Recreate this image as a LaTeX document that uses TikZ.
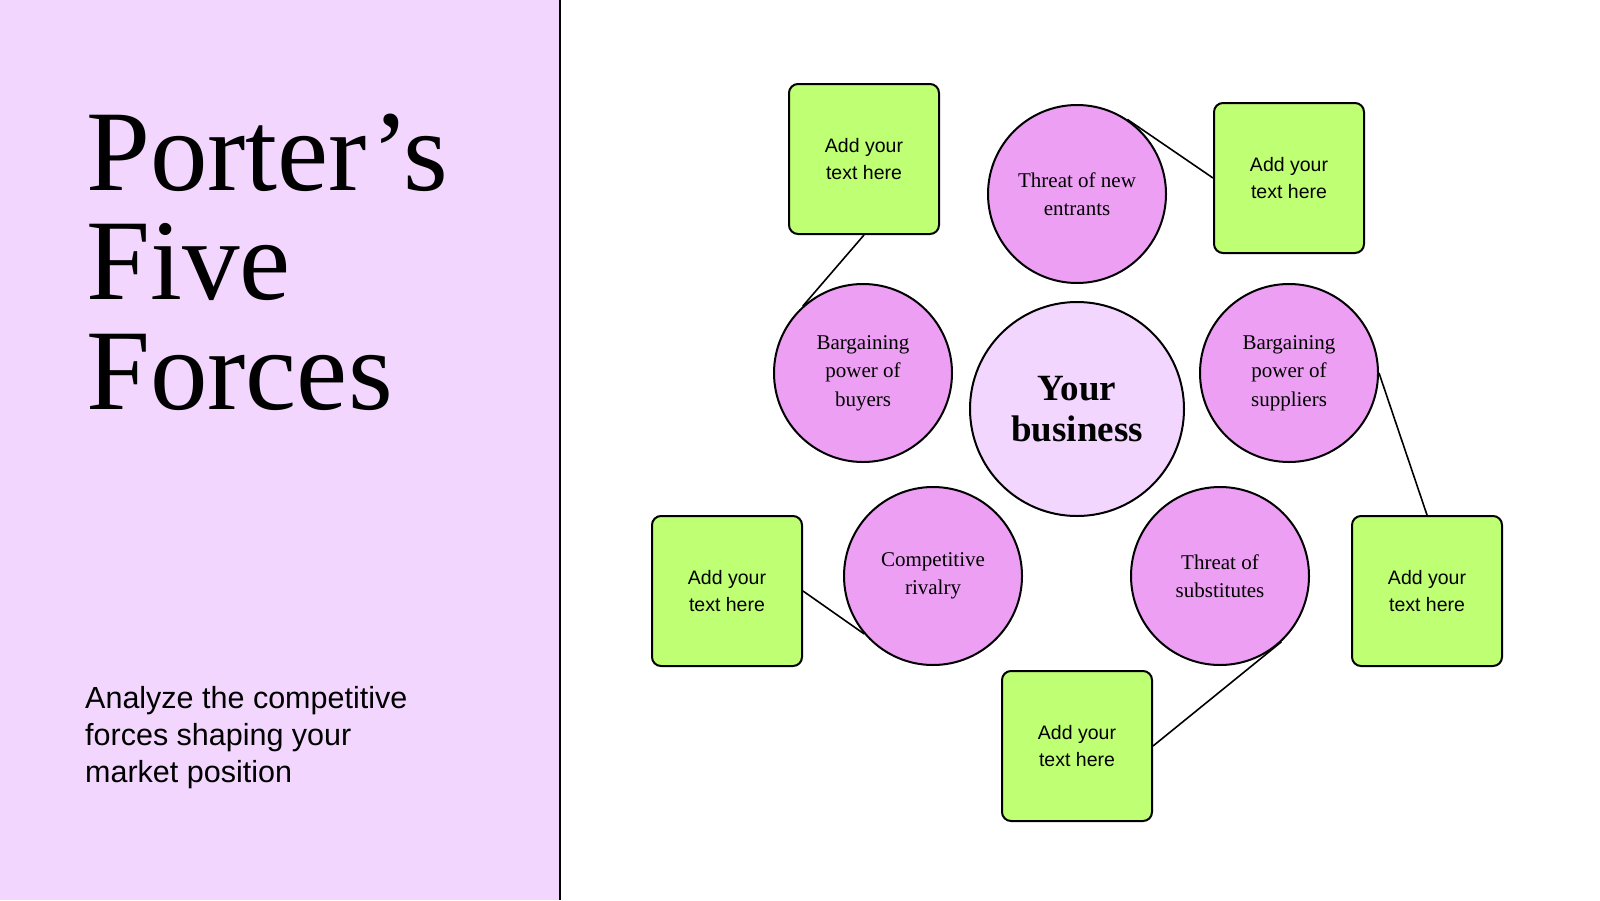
\documentclass[tikz,border=0pt]{standalone}
\usepackage{fontspec}
\setmainfont{Liberation Serif}
\setsansfont{Liberation Sans}
\definecolor{lavender}{HTML}{F2D6FD}
\definecolor{orchid}{HTML}{EC9FF3}
\definecolor{lime}{HTML}{BFFF73}
\begin{document}
\begin{tikzpicture}[x=1pt,y=-1pt,
  force/.style={circle,draw,line width=2pt,fill=orchid,minimum size=178pt,inner sep=0pt,align=center,font=\fontsize{21}{28.5}\selectfont},
  note/.style={rectangle,rounded corners=9pt,draw,line width=2pt,fill=lime,minimum size=150pt,align=center,font=\sffamily\fontsize{19.5}{26.5}\selectfont},
  link/.style={line width=1.6pt},
  title/.style={anchor=base west,inner sep=0pt,font=\fontsize{115}{110}\selectfont}]
\useasboundingbox (0,0) rectangle (1600,900);
% left panel
\fill[lavender] (0,0) rectangle (560,900);
\draw[line width=2pt] (560,0) -- (560,900);
\node[title] (porter) at (86,190) {Porter’s};
\node[title] (five) at (86,299) {Five};
\node[title] (forces) at (86,409) {Forces};
\node[anchor=base west,inner sep=0pt,align=left,font=\sffamily\fontsize{30.5}{37}\selectfont] (sub) at (85,782)
  {Analyze the competitive\\forces shaping your\\market position};
% forces
\node[force,fill=lavender,minimum size=214pt,font=\bfseries\fontsize{37}{41}\selectfont] (business) at (1077,409) {Your\\business};
\node[force] (entrants) at (1077,194) {Threat of new\\entrants};
\node[force] (buyers) at (863,373) {Bargaining\\power of\\buyers};
\node[force] (suppliers) at (1289,373) {Bargaining\\power of\\suppliers};
\node[force] (rivalry) at (933,576) {Competitive\\rivalry};
\node[force] (substitutes) at (1220,576) {Threat of\\substitutes};
% notes
\node[note] (note1) at (864,159) {Add your\\text here};
\node[note] (note2) at (1289,178) {Add your\\text here};
\node[note] (note3) at (727,591) {Add your\\text here};
\node[note] (note4) at (1427,591) {Add your\\text here};
\node[note] (note5) at (1077,746) {Add your\\text here};
\draw[link] (note1.south) -- (buyers.132);
\draw[link] (entrants.56) -- (note2.west);
\draw[link] (suppliers.east) -- (note4.north);
\draw[link] (note3.east) -- (rivalry.220);
\draw[link] (note5.east) -- (substitutes.313);
\end{tikzpicture}
\end{document}
